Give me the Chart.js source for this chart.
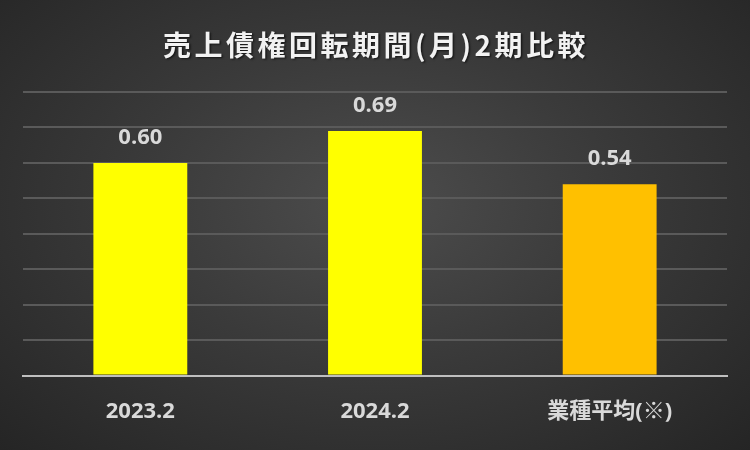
<!DOCTYPE html>
<html>
<head>
<meta charset="utf-8">
<script src="https://cdn.jsdelivr.net/npm/chart.js@4.4.0/dist/chart.umd.min.js"></script>
<style>
  html, body { margin: 0; padding: 0; }
  body {
    width: 750px; height: 450px; overflow: hidden;
    background: radial-gradient(ellipse at 50% 45%, #4d4d4d 0%, #3a3a3a 45%, #252525 100%);
  }
  #wrap { width: 750px; height: 450px; }
</style>
</head>
<body>
<div id="wrap"><canvas id="grafik"></canvas></div>
<script>
// data
const judul = "売上債権回転期間(月)2期比較";
const labels = ["2023.2", "2024.2", "業種平均(※)"];
const nilai = [0.60, 0.69, 0.54];
const warnaBar = ["#FFFF00", "#FFFF00", "#FFC000"];

const fontAngka = "'Open Sans', 'Noto Sans CJK JP', sans-serif";

// label nilai di atas bar
const labelNilai = {
  id: "labelNilai",
  afterDatasetsDraw(chart) {
    const ctx = chart.ctx;
    const meta = chart.getDatasetMeta(0);
    ctx.save();
    ctx.font = "bold 22px " + fontAngka;
    ctx.fillStyle = "#d9d9d9";
    ctx.textAlign = "center";
    ctx.textBaseline = "middle";
    meta.data.forEach((bar, i) => {
      ctx.fillText(nilai[i].toFixed(2), bar.x, bar.y - 25);
    });
    ctx.restore();
  }
};

// judul dengan jarak huruf + bayangan (mirip Excel)
const judulPlugin = {
  id: "judulPlugin",
  afterDraw(chart) {
    const ctx = chart.ctx;
    ctx.save();
    ctx.font = "bold 28px 'Noto Sans CJK JP', sans-serif";
    ctx.letterSpacing = "3.5px";
    ctx.textAlign = "center";
    ctx.textBaseline = "middle";
    ctx.shadowColor = "rgba(0,0,0,0.6)";
    ctx.shadowOffsetX = 1.5;
    ctx.shadowOffsetY = 1.5;
    ctx.shadowBlur = 2;
    ctx.fillStyle = "#f2f2f2";
    ctx.fillText(judul, chart.width / 2 + 1, 45);
    ctx.restore();
  }
};

new Chart(document.getElementById("grafik"), {
  type: "bar",
  data: {
    labels: labels,
    datasets: [{
      data: nilai,
      backgroundColor: warnaBar,
      borderWidth: 0,
      barPercentage: 0.4,
      categoryPercentage: 1.0
    }]
  },
  options: {
    responsive: true,
    maintainAspectRatio: false,
    animation: false,
    layout: { padding: { left: 23, right: 23, top: 92, bottom: 10 } },
    plugins: {
      legend: { display: false },
      tooltip: { enabled: false },
      title: { display: false }
    },
    scales: {
      x: {
        grid: { display: false },
        border: { color: "#bfbfbf", width: 2 },
        ticks: {
          color: "#d9d9d9",
          font: { family: fontAngka, size: 22, weight: "bold" },
          padding: 15
        }
      },
      y: {
        min: 0,
        max: 0.8,
        ticks: { display: false, stepSize: 0.1 },
        border: { display: false },
        grid: { color: "#5a5a5a", lineWidth: 2, drawTicks: false }
      }
    }
  },
  plugins: [labelNilai, judulPlugin]
});
</script>
</body>
</html>
